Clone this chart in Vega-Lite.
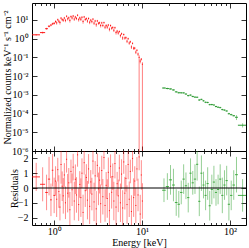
{
"$schema": "https://vega.github.io/schema/vega-lite/v6.json",
"autosize": {"type": "pad"},
"padding": {"left": 1, "top": 2, "right": 0, "bottom": 0},
"spacing": 0,
"bounds": "flush",
"config": {
  "view": {"stroke": "black", "strokeWidth": 1},
  "font": "Liberation Serif",
  "axis": {"domain": false, "grid": false, "labelFont": "Liberation Serif", "labelFontSize": 10, "titleFont": "Liberation Serif", "titleFontSize": 10, "titleFontWeight": "normal", "tickColor": "black", "tickWidth": 0.8, "labelColor": "black", "titleColor": "black"}
},
"datasets": {
"red": [
{"e":0.625,"e0":0.56,"e1":0.69,"f":1.6,"f0":1.45,"f1":1.75,"r":0.75,"r0":-0.2,"r1":1.7},
{"e":0.74,"e0":0.69,"e1":0.79,"f":2.1,"f0":1.85,"f1":2.35,"r":0.25,"r0":-0.9,"r1":1.4},
{"e":0.82,"e0":0.79,"e1":0.85,"f":3.4,"f0":3.0,"f1":3.8,"r":-0.3,"r0":-1.5,"r1":0.9},
{"e":0.875,"e0":0.85,"e1":0.9,"f":4.6,"f0":4.0,"f1":5.2,"r":0.6,"r0":-0.5,"r1":2.1},
{"e":0.92,"e0":0.9,"e1":0.94,"f":5.3,"f0":4.6,"f1":6.0,"r":-0.8,"r0":-1.9,"r1":0.3},
{"e":0.96,"e0":0.94,"e1":0.98,"f":6.2,"f0":5.3,"f1":7.1,"r":1.2,"r0":0.1,"r1":2.3},
{"e":1.0,"e0":0.98,"e1":1.023,"f":6.6,"f0":5.6,"f1":7.6,"r":-0.5,"r0":-1.7,"r1":0.7},
{"e":1.038,"e0":1.023,"e1":1.053,"f":8.21,"f0":6.92,"f1":9.5,"r":0.47,"r0":-0.53,"r1":1.47},
{"e":1.068,"e0":1.053,"e1":1.084,"f":6.96,"f0":5.6,"f1":8.32,"r":-0.76,"r0":-1.96,"r1":0.44},
{"e":1.1,"e0":1.084,"e1":1.115,"f":10.29,"f0":8.84,"f1":11.74,"r":1.24,"r0":0.44,"r1":2.04},
{"e":1.131,"e0":1.115,"e1":1.148,"f":8.54,"f0":7.03,"f1":10.05,"r":-0.24,"r0":-1.34,"r1":0.86},
{"e":1.164,"e0":1.148,"e1":1.181,"f":7.25,"f0":5.67,"f1":8.83,"r":-1.29,"r0":-2.19,"r1":-0.39},
{"e":1.198,"e0":1.181,"e1":1.216,"f":12.45,"f0":10.78,"f1":14.12,"r":1.59,"r0":0.29,"r1":2.89},
{"e":1.234,"e0":1.216,"e1":1.252,"f":10.4,"f0":8.67,"f1":12.13,"r":0.12,"r0":-0.88,"r1":1.12},
{"e":1.27,"e0":1.252,"e1":1.288,"f":9.65,"f0":7.85,"f1":11.45,"r":-0.53,"r0":-1.73,"r1":0.67},
{"e":1.307,"e0":1.288,"e1":1.326,"f":12.65,"f0":10.78,"f1":14.52,"r":0.88,"r0":0.08,"r1":1.68},
{"e":1.345,"e0":1.326,"e1":1.365,"f":9.46,"f0":7.52,"f1":11.4,"r":-1.0,"r0":-2.1,"r1":0.1},
{"e":1.385,"e0":1.365,"e1":1.405,"f":15.69,"f0":13.69,"f1":17.69,"r":1.94,"r0":1.04,"r1":2.84},
{"e":1.425,"e0":1.405,"e1":1.446,"f":11.37,"f0":9.31,"f1":13.43,"r":-0.35,"r0":-1.65,"r1":0.95},
{"e":1.467,"e0":1.446,"e1":1.488,"f":13.04,"f0":10.95,"f1":15.13,"r":0.35,"r0":-0.65,"r1":1.35},
{"e":1.51,"e0":1.488,"e1":1.531,"f":9.38,"f0":7.25,"f1":11.51,"r":-1.47,"r0":-2.67,"r1":-0.27},
{"e":1.554,"e0":1.531,"e1":1.576,"f":15.11,"f0":12.95,"f1":17.27,"r":1.12,"r0":0.32,"r1":1.92},
{"e":1.599,"e0":1.576,"e1":1.622,"f":12.64,"f0":10.45,"f1":14.83,"r":-0.12,"r0":-1.22,"r1":0.98},
{"e":1.646,"e0":1.622,"e1":1.67,"f":16.12,"f0":13.91,"f1":18.33,"r":1.41,"r0":0.51,"r1":2.31},
{"e":1.694,"e0":1.67,"e1":1.718,"f":11.05,"f0":8.84,"f1":13.26,"r":-0.88,"r0":-2.18,"r1":0.42},
{"e":1.743,"e0":1.718,"e1":1.769,"f":14.3,"f0":12.09,"f1":16.51,"r":0.59,"r0":-0.41,"r1":1.59},
{"e":1.794,"e0":1.769,"e1":1.82,"f":11.96,"f0":9.75,"f1":14.17,"r":-0.47,"r0":-1.67,"r1":0.73},
{"e":1.846,"e0":1.82,"e1":1.873,"f":17.8,"f0":15.61,"f1":19.99,"r":2.24,"r0":1.44,"r1":3.04},
{"e":1.9,"e0":1.873,"e1":1.928,"f":10.29,"f0":8.13,"f1":12.45,"r":-1.12,"r0":-2.22,"r1":-0.02},
{"e":1.956,"e0":1.928,"e1":1.985,"f":12.9,"f0":10.79,"f1":15.01,"r":0.24,"r0":-0.66,"r1":1.14},
{"e":2.013,"e0":1.985,"e1":2.042,"f":10.77,"f0":8.71,"f1":12.83,"r":-0.65,"r0":-1.95,"r1":0.65},
{"e":2.072,"e0":2.042,"e1":2.102,"f":13.81,"f0":11.81,"f1":15.81,"r":1.0,"r0":0,"r1":2.0},
{"e":2.133,"e0":2.102,"e1":2.164,"f":8.28,"f0":6.32,"f1":10.24,"r":-1.65,"r0":-2.85,"r1":-0.45},
{"e":2.195,"e0":2.164,"e1":2.227,"f":14.45,"f0":12.55,"f1":16.35,"r":1.71,"r0":0.91,"r1":2.51},
{"e":2.259,"e0":2.227,"e1":2.292,"f":10.57,"f0":8.72,"f1":12.42,"r":-0.18,"r0":-1.28,"r1":0.92},
{"e":2.325,"e0":2.292,"e1":2.359,"f":11.76,"f0":9.97,"f1":13.55,"r":0.71,"r0":-0.19,"r1":1.61},
{"e":2.393,"e0":2.359,"e1":2.427,"f":8.77,"f0":7.04,"f1":10.5,"r":-0.82,"r0":-2.12,"r1":0.48},
{"e":2.463,"e0":2.427,"e1":2.498,"f":11.96,"f0":10.29,"f1":13.63,"r":1.29,"r0":0.29,"r1":2.29},
{"e":2.534,"e0":2.498,"e1":2.571,"f":7.51,"f0":5.89,"f1":9.13,"r":-1.24,"r0":-2.44,"r1":-0.04},
{"e":2.608,"e0":2.571,"e1":2.646,"f":9.74,"f0":8.19,"f1":11.29,"r":0.41,"r0":-0.39,"r1":1.21},
{"e":2.685,"e0":2.646,"e1":2.724,"f":8.09,"f0":6.61,"f1":9.57,"r":-0.41,"r0":-1.51,"r1":0.69},
{"e":2.763,"e0":2.724,"e1":2.803,"f":11.0,"f0":9.57,"f1":12.43,"r":1.82,"r0":0.92,"r1":2.72},
{"e":2.844,"e0":2.803,"e1":2.885,"f":6.72,"f0":5.36,"f1":8.08,"r":-0.94,"r0":-2.24,"r1":0.36},
{"e":2.927,"e0":2.885,"e1":2.97,"f":8.78,"f0":7.47,"f1":10.09,"r":0.82,"r0":-0.18,"r1":1.82},
{"e":3.013,"e0":2.97,"e1":3.056,"f":5.55,"f0":4.31,"f1":6.79,"r":-1.41,"r0":-2.61,"r1":-0.21},
{"e":3.101,"e0":3.056,"e1":3.146,"f":8.82,"f0":7.63,"f1":10.01,"r":1.53,"r0":0.73,"r1":2.33},
{"e":3.192,"e0":3.146,"e1":3.238,"f":6.63,"f0":5.49,"f1":7.77,"r":-0.06,"r0":-1.16,"r1":1.04},
{"e":3.285,"e0":3.238,"e1":3.332,"f":6.98,"f0":5.89,"f1":8.07,"r":0.53,"r0":-0.37,"r1":1.43},
{"e":3.381,"e0":3.332,"e1":3.429,"f":5.0,"f0":3.96,"f1":6.04,"r":-1.06,"r0":-2.36,"r1":0.24},
{"e":3.479,"e0":3.429,"e1":3.53,"f":6.96,"f0":5.97,"f1":7.95,"r":1.18,"r0":0.18,"r1":2.18},
{"e":3.581,"e0":3.53,"e1":3.633,"f":5.04,"f0":4.09,"f1":5.99,"r":-0.59,"r0":-1.79,"r1":0.61},
{"e":3.686,"e0":3.633,"e1":3.739,"f":7.16,"f0":6.26,"f1":8.06,"r":2.06,"r0":1.26,"r1":2.86},
{"e":3.793,"e0":3.739,"e1":3.848,"f":4.08,"f0":3.21,"f1":4.95,"r":-1.18,"r0":-2.28,"r1":-0.08},
{"e":3.904,"e0":3.848,"e1":3.961,"f":5.05,"f0":4.22,"f1":5.88,"r":0.18,"r0":-0.72,"r1":1.08},
{"e":4.018,"e0":3.961,"e1":4.076,"f":4.14,"f0":3.34,"f1":4.94,"r":-0.71,"r0":-2.01,"r1":0.59},
{"e":4.135,"e0":4.076,"e1":4.195,"f":5.31,"f0":4.54,"f1":6.08,"r":1.06,"r0":0.06,"r1":2.06},
{"e":4.256,"e0":4.195,"e1":4.318,"f":3.18,"f0":2.45,"f1":3.91,"r":-1.53,"r0":-2.73,"r1":-0.33},
{"e":4.381,"e0":4.318,"e1":4.444,"f":5.0,"f0":4.32,"f1":5.68,"r":1.47,"r0":0.67,"r1":2.27},
{"e":4.509,"e0":4.444,"e1":4.574,"f":3.61,"f0":2.96,"f1":4.26,"r":-0.29,"r0":-1.39,"r1":0.81},
{"e":4.64,"e0":4.574,"e1":4.707,"f":3.96,"f0":3.36,"f1":4.56,"r":0.76,"r0":-0.14,"r1":1.66},
{"e":4.776,"e0":4.707,"e1":4.845,"f":2.81,"f0":2.25,"f1":3.37,"r":-0.88,"r0":-2.18,"r1":0.42},
{"e":4.915,"e0":4.845,"e1":4.986,"f":3.84,"f0":3.33,"f1":4.35,"r":1.65,"r0":0.65,"r1":2.65},
{"e":5.059,"e0":4.986,"e1":5.132,"f":2.11,"f0":1.65,"f1":2.57,"r":-1.29,"r0":-2.49,"r1":-0.09},
{"e":5.207,"e0":5.132,"e1":5.282,"f":2.52,"f0":2.11,"f1":2.93,"r":0.29,"r0":-0.51,"r1":1.09},
{"e":5.359,"e0":5.282,"e1":5.436,"f":2.0,"f0":1.63,"f1":2.37,"r":-0.53,"r0":-1.63,"r1":0.57},
{"e":5.515,"e0":5.436,"e1":5.595,"f":2.4,"f0":2.07,"f1":2.73,"r":1.35,"r0":0.45,"r1":2.25},
{"e":5.676,"e0":5.595,"e1":5.758,"f":1.45,"f0":1.15,"f1":1.75,"r":-1.0,"r0":-2.3,"r1":0.3},
{"e":5.842,"e0":5.758,"e1":5.926,"f":1.83,"f0":1.56,"f1":2.1,"r":0.94,"r0":-0.06,"r1":1.94},
{"e":6.012,"e0":5.926,"e1":6.099,"f":1.09,"f0":0.85,"f1":1.33,"r":-1.35,"r0":-2.55,"r1":-0.15},
{"e":6.188,"e0":6.099,"e1":6.277,"f":1.66,"f0":1.44,"f1":1.88,"r":1.76,"r0":0.96,"r1":2.56},
{"e":6.369,"e0":6.277,"e1":6.461,"f":1.08,"f0":0.88,"f1":1.28,"r":-0.35,"r0":-1.45,"r1":0.75},
{"e":6.555,"e0":6.461,"e1":6.649,"f":1.13,"f0":0.96,"f1":1.3,"r":0.65,"r0":-0.25,"r1":1.55},
{"e":6.746,"e0":6.649,"e1":6.844,"f":0.73,"f0":0.58,"f1":0.88,"r":-1.12,"r0":-2.42,"r1":0.18},
{"e":6.943,"e0":6.844,"e1":7.043,"f":0.99,"f0":0.86,"f1":1.12,"r":1.59,"r0":0.59,"r1":2.59},
{"e":7.146,"e0":7.043,"e1":7.249,"f":0.58,"f0":0.47,"f1":0.69,"r":-0.76,"r0":-1.96,"r1":0.44},
{"e":7.355,"e0":7.249,"e1":7.461,"f":0.68,"f0":0.58,"f1":0.78,"r":1.12,"r0":0.32,"r1":1.92},
{"e":7.57,"e0":7.461,"e1":7.679,"f":0.36,"f0":0.28,"f1":0.44,"r":-1.59,"r0":-2.69,"r1":-0.49},
{"e":7.791,"e0":7.679,"e1":7.903,"f":0.56,"f0":0.49,"f1":0.63,"r":2.0,"r0":1.1,"r1":2.9},
{"e":8.018,"e0":7.903,"e1":8.134,"f":0.31,"f0":0.25,"f1":0.37,"r":-0.65,"r0":-1.95,"r1":0.65},
{"e":8.253,"e0":8.134,"e1":8.371,"f":0.31,"f0":0.26,"f1":0.36,"r":0.47,"r0":-0.53,"r1":1.47},
{"e":8.494,"e0":8.371,"e1":8.616,"f":0.19,"f0":0.15,"f1":0.23,"r":-1.18,"r0":-2.38,"r1":0.02},
{"e":8.741,"e0":8.616,"e1":8.867,"f":0.24,"f0":0.21,"f1":0.27,"r":1.29,"r0":0.49,"r1":2.09},
{"e":8.996,"e0":8.867,"e1":9.126,"f":0.15,"f0":0.12,"f1":0.18,"r":-0.47,"r0":-1.57,"r1":0.63},
{"e":9.26,"e0":9.126,"e1":9.393,"f":0.1,"f0":1e-9,"f1":0.13,"r":2.1,"r0":1.2,"r1":3.0},
{"e":9.53,"e0":9.393,"e1":9.667,"f":0.063,"f0":0.048,"f1":0.078,"r":-1.76,"r0":-3.06,"r1":-0.46},
{"e":9.808,"e0":9.667,"e1":9.949,"f":0.08,"f0":0.068,"f1":0.092,"r":0.88,"r0":-0.12,"r1":1.88},
{"e":10.09,"e0":9.949,"e1":10.24,"f":0.043,"f0":1e-9,"f1":0.055,"r":-0.88,"r0":-2.08,"r1":0.32}
],
"green": [
{"e":17.75,"e0":16.9,"e1":18.6,"f":2.31e-3,"f0":2.08e-3,"f1":2.55e-3,"r":-0.15,"r0":-0.95,"r1":0.65},
{"e":19.4,"e0":18.6,"e1":20.2,"f":2.17e-3,"f0":1.96e-3,"f1":2.39e-3,"r":0.1,"r0":-0.8,"r1":1.0},
{"e":21.05,"e0":20.2,"e1":21.9,"f":2.06e-3,"f0":1.86e-3,"f1":2.25e-3,"r":0.55,"r0":-0.45,"r1":1.55},
{"e":22.75,"e0":21.9,"e1":23.6,"f":1.82e-3,"f0":1.64e-3,"f1":2.0e-3,"r":0.2,"r0":-0.9,"r1":1.3},
{"e":24.45,"e0":23.6,"e1":25.3,"f":1.44e-3,"f0":1.28e-3,"f1":1.6e-3,"r":-0.98,"r0":-1.88,"r1":-0.08},
{"e":26.15,"e0":25.3,"e1":27.0,"f":1.29e-3,"f0":1.15e-3,"f1":1.44e-3,"r":-1.1,"r0":-2.0,"r1":-0.2},
{"e":27.9,"e0":27.0,"e1":28.8,"f":1.28e-3,"f0":1.15e-3,"f1":1.41e-3,"r":-0.3,"r0":-1.1,"r1":0.5},
{"e":29.7,"e0":28.8,"e1":30.6,"f":1.27e-3,"f0":1.15e-3,"f1":1.39e-3,"r":0.6,"r0":-0.4,"r1":1.6},
{"e":31.55,"e0":30.6,"e1":32.5,"f":1.10e-3,"f0":0.99e-3,"f1":1.21e-3,"r":0.15,"r0":-0.75,"r1":1.05},
{"e":33.5,"e0":32.5,"e1":34.5,"f":9.07e-4,"f0":8.1e-4,"f1":1.0e-3,"r":-0.65,"r0":-1.65,"r1":0.35},
{"e":35.55,"e0":34.5,"e1":36.6,"f":9.68e-4,"f0":8.8e-4,"f1":1.06e-3,"r":1.0,"r0":0.0,"r1":2.0},
{"e":37.7,"e0":36.6,"e1":38.8,"f":8.18e-4,"f0":7.4e-4,"f1":9.0e-4,"r":0.35,"r0":-0.45,"r1":1.15},
{"e":39.95,"e0":38.8,"e1":41.1,"f":7.53e-4,"f0":6.8e-4,"f1":8.2e-4,"r":0.6,"r0":-0.4,"r1":1.6},
{"e":42.3,"e0":41.1,"e1":43.5,"f":7.42e-4,"f0":6.8e-4,"f1":8.1e-4,"r":1.6,"r0":0.5,"r1":2.7},
{"e":44.75,"e0":43.5,"e1":46.0,"f":5.28e-4,"f0":4.7e-4,"f1":5.9e-4,"r":-0.9,"r0":-1.9,"r1":0.1},
{"e":47.3,"e0":46.0,"e1":48.6,"f":5.72e-4,"f0":5.2e-4,"f1":6.2e-4,"r":1.0,"r0":-0.2,"r1":2.2},
{"e":49.95,"e0":48.6,"e1":51.3,"f":4.79e-4,"f0":4.3e-4,"f1":5.3e-4,"r":0.2,"r0":-0.7,"r1":1.1},
{"e":52.75,"e0":51.3,"e1":54.2,"f":3.99e-4,"f0":3.6e-4,"f1":4.4e-4,"r":-0.5,"r0":-1.5,"r1":0.5},
{"e":55.7,"e0":54.2,"e1":57.2,"f":3.91e-4,"f0":3.5e-4,"f1":4.3e-4,"r":0.3,"r0":-0.8,"r1":1.4},
{"e":58.8,"e0":57.2,"e1":60.4,"f":2.99e-4,"f0":2.7e-4,"f1":3.3e-4,"r":-1.2,"r0":-2.2,"r1":-0.2},
{"e":62.1,"e0":60.4,"e1":63.8,"f":3.02e-4,"f0":2.7e-4,"f1":3.3e-4,"r":-0.1,"r0":-1.1,"r1":0.9},
{"e":65.6,"e0":63.8,"e1":67.4,"f":2.86e-4,"f0":2.6e-4,"f1":3.1e-4,"r":0.4,"r0":-0.7,"r1":1.5},
{"e":69.3,"e0":67.4,"e1":71.2,"f":2.38e-4,"f0":2.1e-4,"f1":2.6e-4,"r":-0.3,"r0":-1.2,"r1":0.6},
{"e":73.2,"e0":71.2,"e1":75.2,"f":2.18e-4,"f0":2.0e-4,"f1":2.4e-4,"r":-0.1,"r0":-1.1,"r1":0.9},
{"e":77.35,"e0":75.2,"e1":79.5,"f":2.07e-4,"f0":1.9e-4,"f1":2.3e-4,"r":0.6,"r0":-0.4,"r1":1.6},
{"e":81.8,"e0":79.5,"e1":84.1,"f":1.63e-4,"f0":1.46e-4,"f1":1.81e-4,"r":-0.5,"r0":-1.7,"r1":0.7},
{"e":86.55,"e0":84.1,"e1":89.0,"f":1.53e-4,"f0":1.38e-4,"f1":1.68e-4,"r":0.2,"r0":-0.8,"r1":1.2},
{"e":91.65,"e0":89.0,"e1":94.3,"f":1.37e-4,"f0":1.24e-4,"f1":1.5e-4,"r":0.5,"r0":-0.5,"r1":1.5},
{"e":97.15,"e0":94.3,"e1":100,"f":9.79e-5,"f0":8.7e-5,"f1":1.09e-4,"r":-1.1,"r0":-2.2,"r1":0.0},
{"e":103.25,"e0":100,"e1":106.5,"f":8.74e-5,"f0":7.8e-5,"f1":9.7e-5,"r":-0.5,"r0":-1.5,"r1":0.5},
{"e":110.25,"e0":106.5,"e1":114,"f":7.65e-5,"f0":6.9e-5,"f1":8.4e-5,"r":0.2,"r0":-0.8,"r1":1.2},
{"e":118.5,"e0":114,"e1":123,"f":6.32e-5,"f0":4.5e-5,"f1":8.2e-5,"r":0.9,"r0":-0.3,"r1":2.1},
{"e":139,"e0":123,"e1":155,"f":2.38e-5,"f0":1.8e-5,"f1":3.0e-5,"r":-0.5,"r0":-1.6,"r1":0.6}
]
},
"vconcat": [
{
  "width": 214, "height": 148,
  "layer": [
    {"data": {"name": "red"}, "mark": {"type": "rule", "color": "#ff0000", "opacity": 0.5, "strokeWidth": 1, "clip": true},
     "encoding": {
       "x": {"field": "e", "type": "quantitative", "scale": {"type": "log", "domain": [0.56, 152], "nice": false},
             "axis": {"orient": "bottom", "values": [0.6,0.7,0.8,0.9,1,2,3,4,5,6,7,8,9,10,20,30,40,50,60,70,80,90,100], "labels": false, "title": null,
                      "tickSize": {"condition": {"test": "datum.value == 1 || datum.value == 10 || datum.value == 100", "value": -5}, "value": -2.5}}},
       "y": {"field": "f0", "type": "quantitative", "scale": {"type": "log", "domain": [0.000001, 80], "nice": false},
             "axis": {"orient": "left", "values": [0.000001,0.00001,0.0001,0.001,0.01,0.1,1,10], "tickSize": -5, "labelPadding": 9,
                      "labelExpr": "datum.value == 10 ? '10¹' : datum.value == 1 ? '10⁰' : datum.value == 0.1 ? '10⁻¹' : datum.value == 0.01 ? '10⁻²' : datum.value == 0.001 ? '10⁻³' : datum.value == 0.0001 ? '10⁻⁴' : datum.value == 0.00001 ? '10⁻⁵' : datum.value == 0.000001 ? '10⁻⁶' : ''",
                      "title": "Normalized counts keV⁻¹ s⁻¹ cm⁻²", "titleX": -22, "titleY": 74, "titleAngle": -90, "titleAlign": "center", "titleBaseline": "alphabetic"}},
       "y2": {"field": "f1"}
     }},
    {"data": {"name": "red"}, "mark": {"type": "rule", "color": "#ff0000", "opacity": 0.9, "strokeWidth": 1, "clip": true},
     "encoding": {
       "x": {"field": "e0", "type": "quantitative", "scale": {"type": "log", "domain": [0.56, 152], "nice": false},
             "axis": {"orient": "top", "values": [0.6,0.7,0.8,0.9,1,2,3,4,5,6,7,8,9,10,20,30,40,50,60,70,80,90,100], "labels": false, "title": null,
                      "tickSize": {"condition": {"test": "datum.value == 1 || datum.value == 10 || datum.value == 100", "value": -5}, "value": -2.5}}},
       "x2": {"field": "e1"},
       "y": {"field": "f", "type": "quantitative", "scale": {"type": "log", "domain": [0.000001, 80], "nice": false},
             "axis": {"orient": "right", "values": [0.000001,0.00001,0.0001,0.001,0.01,0.1,1,10], "tickSize": -5, "labels": false, "title": null}}
     }},
    {"data": {"name": "green"}, "mark": {"type": "rule", "color": "#2ca02c", "opacity": 0.5, "strokeWidth": 1, "clip": true},
     "encoding": {
       "x": {"field": "e", "type": "quantitative", "scale": {"type": "log", "domain": [0.56, 152], "nice": false}, "axis": null},
       "y": {"field": "f0", "type": "quantitative", "scale": {"type": "log", "domain": [0.000001, 80], "nice": false}, "axis": null},
       "y2": {"field": "f1"}
     }},
    {"data": {"name": "green"}, "mark": {"type": "rule", "color": "#23962a", "opacity": 0.95, "strokeWidth": 1, "clip": true},
     "encoding": {
       "x": {"field": "e0", "type": "quantitative", "scale": {"type": "log", "domain": [0.56, 152], "nice": false}, "axis": null},
       "x2": {"field": "e1"},
       "y": {"field": "f", "type": "quantitative", "scale": {"type": "log", "domain": [0.000001, 80], "nice": false}, "axis": null}
     }}
  ],
  "resolve": {"axis": {"x": "independent", "y": "independent"}}
},
{
  "width": 214, "height": 74,
  "layer": [
    {"data": {"name": "red"}, "mark": {"type": "rule", "color": "#ff0000", "opacity": 0.45, "strokeWidth": 1, "clip": true},
     "encoding": {
       "x": {"field": "e", "type": "quantitative", "scale": {"type": "log", "domain": [0.56, 152], "nice": false},
             "axis": {"orient": "bottom", "values": [0.6,0.7,0.8,0.9,1,2,3,4,5,6,7,8,9,10,20,30,40,50,60,70,80,90,100], "labelPadding": 6,
                      "labelExpr": "datum.value == 1 ? '10⁰' : datum.value == 10 ? '10¹' : datum.value == 100 ? '10²' : ''",
                      "tickSize": {"condition": {"test": "datum.value == 1 || datum.value == 10 || datum.value == 100", "value": -5}, "value": -2.5},
                      "title": "Energy [keV]", "titleX": 107, "titleY": 20, "titleAlign": "center", "titleBaseline": "alphabetic"}},
       "y": {"field": "r0", "type": "quantitative", "scale": {"domain": [-2.5, 2.5], "nice": false, "zero": false},
             "axis": {"orient": "left", "values": [-2,-1,0,1,2], "tickSize": -5, "labelPadding": 9,
                      "title": "Residuals", "titleX": -15, "titleY": 37, "titleAngle": -90, "titleAlign": "center", "titleBaseline": "alphabetic"}},
       "y2": {"field": "r1"}
     }},
    {"data": {"name": "red"}, "mark": {"type": "rule", "color": "#ff0000", "opacity": 0.8, "strokeWidth": 1, "clip": true},
     "encoding": {
       "x": {"field": "e0", "type": "quantitative", "scale": {"type": "log", "domain": [0.56, 152], "nice": false},
             "axis": {"orient": "top", "values": [0.6,0.7,0.8,0.9,1,2,3,4,5,6,7,8,9,10,20,30,40,50,60,70,80,90,100], "labels": false, "title": null,
                      "tickSize": {"condition": {"test": "datum.value == 1 || datum.value == 10 || datum.value == 100", "value": -5}, "value": -2.5}}},
       "x2": {"field": "e1"},
       "y": {"field": "r", "type": "quantitative", "scale": {"domain": [-2.5, 2.5], "nice": false, "zero": false},
             "axis": {"orient": "right", "values": [-2,-1,0,1,2], "tickSize": -5, "labels": false, "title": null}}
     }},
    {"data": {"name": "green"}, "mark": {"type": "rule", "color": "#2ca02c", "opacity": 0.5, "strokeWidth": 1, "clip": true},
     "encoding": {
       "x": {"field": "e", "type": "quantitative", "scale": {"type": "log", "domain": [0.56, 152], "nice": false}, "axis": null},
       "y": {"field": "r0", "type": "quantitative", "scale": {"domain": [-2.5, 2.5], "nice": false, "zero": false}, "axis": null},
       "y2": {"field": "r1"}
     }},
    {"data": {"name": "green"}, "mark": {"type": "rule", "color": "#2ca02c", "opacity": 0.85, "strokeWidth": 1, "clip": true},
     "encoding": {
       "x": {"field": "e0", "type": "quantitative", "scale": {"type": "log", "domain": [0.56, 152], "nice": false}, "axis": null},
       "x2": {"field": "e1"},
       "y": {"field": "r", "type": "quantitative", "scale": {"domain": [-2.5, 2.5], "nice": false, "zero": false}, "axis": null}
     }},
    {"data": {"values": [{"z": 0}]}, "mark": {"type": "rule", "color": "black", "strokeWidth": 1},
     "encoding": {
       "y": {"field": "z", "type": "quantitative", "scale": {"domain": [-2.5, 2.5], "nice": false, "zero": false}, "axis": null}
     }}
  ],
  "resolve": {"axis": {"x": "independent", "y": "independent"}}
}
]
}
